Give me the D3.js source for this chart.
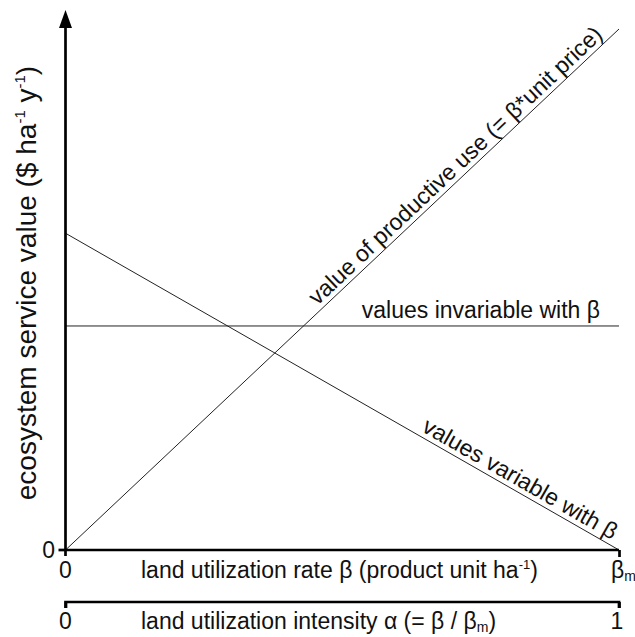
<!DOCTYPE html>
<html lang="en">
<head>
    <meta charset="UTF-8">
    <title>Ecosystem service value</title>
    <script src="https://d3js.org/d3.v7.min.js"></script>
    <style>
        body { margin: 0; background: white; }
        text { font-family: "Liberation Sans", Arial, sans-serif; fill: #111; }
        .axis { stroke: #000; stroke-width: 2.7; fill: none; }
        .curve { stroke: #222; stroke-width: 1; fill: none; }
    </style>
</head>
<body>
<script>
    const width  = 635;
    const height = 637;

    // relative land utilization (beta / beta_m)
    const betaRel = [0, 1];
    // ecosystem service value (relative units) at beta = 0 and beta = beta_m
    const productiveUse = [0, 1];
    const invariable    = [0.43, 0.43];
    const variable      = [0.608, 0];

    const lineLabels = ["value of productive use (= β*unit price)", "values invariable with β", "values variable with β"];

    const x = d3.scaleLinear().domain([0, 1]).range([65.5, 619]);
    const y = d3.scaleLinear().domain([0, 1]).range([550, 29]);

    const svg = d3.select("body").append("svg").attr("width", width).attr("height", height);

    const line = d3.line().x(d => x(d[0])).y(d => y(d[1]));
    const series = [productiveUse, invariable, variable];

    svg.selectAll("path.curve")
        .data(series)
        .enter()
        .append("path").attr("class", "curve")
        .attr("d", s => line(betaRel.map((b, i) => [b, s[i]])));

    // axes
    svg.append("line").attr("class", "axis")
        .attr("x1", x(0)).attr("x2", x(0)).attr("y1", y(0) + 6).attr("y2", 25);
    svg.append("path").attr("d", `M${x(0) - 6.5},28 L${x(0)},10 L${x(0) + 6.5},28 Z`).attr("fill", "#000");
    svg.append("line").attr("class", "axis")
        .attr("x1", x(0) - 7).attr("x2", x(0)).attr("y1", y(0)).attr("y2", y(0));

    const xAxis = d3.axisBottom(x).tickValues([1]).tickSize(7).tickFormat("");
    svg.append("g").attr("transform", `translate(0,${y(0)})`).call(xAxis)
        .call(g => g.select("path").attr("d", `M${x(0)},0H${x(1)}`))
        .call(g => g.selectAll("path, line").attr("stroke", "#000").attr("stroke-width", 2.7));

    const alphaAxis = d3.axisBottom(x).tickValues([0, 1]).tickSize(6).tickFormat("");
    svg.append("g").attr("transform", `translate(0,602)`).call(alphaAxis)
        .call(g => g.select("path").attr("d", `M${x(0)},6V0H${x(1)}V6`))
        .call(g => g.selectAll("path, line").attr("stroke", "#000").attr("stroke-width", 2.7));

    const fs = 23;

    // tick labels
    svg.append("text").attr("x", 55).attr("y", y(0) + 8).attr("text-anchor", "end")
        .attr("font-size", fs).text("0");
    svg.append("text").attr("x", x(0)).attr("y", 578).attr("text-anchor", "middle")
        .attr("font-size", fs).text("0");
    const bm = svg.append("text").attr("x", 611).attr("y", 578).attr("font-size", fs);
    bm.append("tspan").text("β");
    bm.append("tspan").attr("font-size", 14).attr("dy", 3).text("m");
    svg.append("text").attr("x", x(0)).attr("y", 629).attr("text-anchor", "middle")
        .attr("font-size", fs).text("0");
    svg.append("text").attr("x", 617).attr("y", 629).attr("text-anchor", "middle")
        .attr("font-size", fs).text("1");

    // axis titles
    const xt = svg.append("text").attr("x", 141).attr("y", 578).attr("font-size", fs);
    xt.append("tspan").text("land utilization rate β (product unit ha");
    xt.append("tspan").attr("font-size", 13).attr("dy", -9).text("-1");
    xt.append("tspan").attr("dy", 9).text(")");

    const at = svg.append("text").attr("x", 141).attr("y", 629).attr("font-size", fs);
    at.append("tspan").text("land utilization intensity α (= β / β");
    at.append("tspan").attr("font-size", 14).attr("dy", 3).text("m");
    at.append("tspan").attr("dy", -3).text(")");

    const yt = svg.append("text").attr("transform", "translate(36,283) rotate(-90)")
        .attr("text-anchor", "middle").attr("font-size", 28);
    yt.append("tspan").text("ecosystem service value ($ ha");
    yt.append("tspan").attr("font-size", 15).attr("dy", -11).text("-1");
    yt.append("tspan").attr("dy", 11).text(" y");
    yt.append("tspan").attr("font-size", 15).attr("dy", -11).text("-1");
    yt.append("tspan").attr("dy", 11).text(")");

    // line labels placed along their lines
    function along(s, t, off, label) {
        const px = x(t), py = y(s[0] + (s[1] - s[0]) * t);
        const ang = Math.atan2(y(s[1]) - y(s[0]), x(1) - x(0)) * 180 / Math.PI;
        svg.append("text")
            .attr("transform", `translate(${px},${py}) rotate(${ang})`)
            .attr("text-anchor", "middle").attr("dy", -off)
            .attr("font-size", fs).text(label);
    }
    along(productiveUse, 0.72, 5, lineLabels[0]);
    along(variable, 0.81, 5, lineLabels[2]);

    svg.append("text").attr("x", 600).attr("y", y(invariable[1]) - 8).attr("text-anchor", "end")
        .attr("font-size", fs).text(lineLabels[1]);
</script>
</body>
</html>
